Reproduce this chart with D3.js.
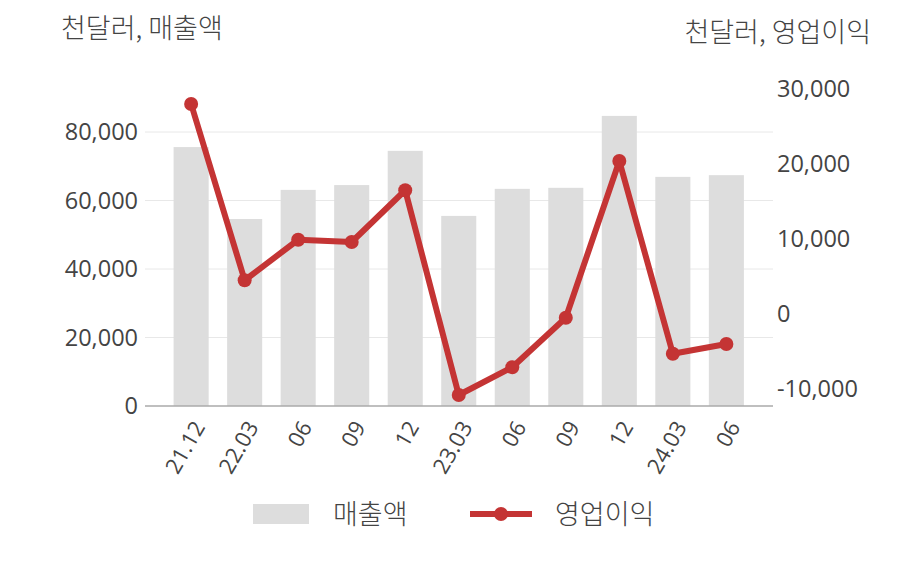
<!DOCTYPE html>
<html><head><meta charset="utf-8">
<script src="https://cdn.jsdelivr.net/npm/d3@7"></script>
<style>
body{margin:0;background:#fff;}
text{fill:#444;}
.kr{font-family:"Noto Sans CJK KR","Noto Sans",sans-serif;font-weight:300;}
</style></head>
<body><svg id="c" width="908" height="580"></svg>
<script>
const categories = ["21.12","22.03","06","09","12","23.03","06","09","12","24.03","06"];
const sales = [75600, 54600, 63100, 64500, 74500, 55500, 63400, 63700, 84700, 66900, 67400];
const opProfit = [28000, 4500, 9900, 9600, 16500, -10800, -7100, -500, 20400, -5300, -4000];
const leftTicks = [0, 20000, 40000, 60000, 80000];
const rightTicks = [-10000, 0, 10000, 20000, 30000];
const leftTitle = "천달러, 매출액";
const rightTitle = "천달러, 영업이익";
const legendNames = ["매출액", "영업이익"];

const svg = d3.select("#c");
const x0 = 145, x1 = 773;
const x = d3.scaleBand().domain(d3.range(categories.length)).range([164.5, 753]).paddingInner(0.345).paddingOuter(0.17);
const yL = d3.scaleLinear().domain([0, 80000]).range([406, 132]);
const yR = d3.scaleLinear().domain([-10000, 30000]).range([389, 89]);
const fmt = d => d3.format(",")(d).replace("\u2212", "-");
const red = "#c43434";
const numFont = "'Open Sans','Noto Sans',sans-serif";

// grid
svg.append("g").selectAll("line").data(leftTicks.slice(1)).join("line")
  .attr("x1", x0).attr("x2", x1).attr("y1", d => yL(d)).attr("y2", d => yL(d))
  .attr("stroke", "#e8e8e8").attr("stroke-width", 1);

// bars
svg.append("g").selectAll("rect").data(sales).join("rect")
  .attr("x", (d, i) => x(i)).attr("width", x.bandwidth())
  .attr("y", d => yL(d)).attr("height", d => yL(0) - yL(d))
  .attr("fill", "#dddddd");

// baseline axis
svg.append("line").attr("x1", x0).attr("x2", x1).attr("y1", yL(0)).attr("y2", yL(0))
  .attr("stroke", "#aaa").attr("stroke-width", 1.5);

// left axis labels
const axL = svg.append("g").attr("transform", `translate(${x0},0)`)
  .call(d3.axisLeft(yL).tickValues(leftTicks).tickFormat(fmt).tickSize(0).tickPadding(7));
axL.select(".domain").remove();
axL.selectAll("text").style("font-size", "23.5px").attr("fill", "#444");

// right axis labels
const axR = svg.append("g").attr("transform", `translate(${x1},0)`)
  .call(d3.axisRight(yR).tickValues(rightTicks).tickFormat(fmt).tickSize(0).tickPadding(4));
axR.select(".domain").remove();
axR.selectAll("text").style("font-size", "23.5px").attr("fill", "#444");

// x axis labels
const axX = svg.append("g").attr("transform", `translate(0,${yL(0)})`)
  .call(d3.axisBottom(x).tickFormat(i => categories[i]).tickSize(0).tickPadding(0));
axX.select(".domain").remove();
axX.selectAll("text").style("font-size", "22px").attr("fill", "#444")
  .attr("text-anchor", "end").attr("dy", "0.35em")
  .attr("transform", "translate(8,17) rotate(-60)");
svg.selectAll("g.tick text").style("font-family", numFont);

// line
const line = d3.line().x((d, i) => x(i) + x.bandwidth() / 2).y(d => yR(d));
svg.append("path").datum(opProfit).attr("d", line)
  .attr("fill", "none").attr("stroke", red).attr("stroke-width", 6).attr("stroke-linejoin", "round");
svg.append("g").selectAll("circle").data(opProfit).join("circle")
  .attr("cx", (d, i) => x(i) + x.bandwidth() / 2).attr("cy", d => yR(d)).attr("r", 7).attr("fill", red);

// titles
svg.append("text").attr("class", "kr").attr("x", 61).attr("y", 38).style("font-size", "27px").text(leftTitle);
svg.append("text").attr("class", "kr").attr("x", 871).attr("y", 42).attr("text-anchor", "end").style("font-size", "27px").text(rightTitle);

// legend
const lg = svg.append("g");
lg.append("rect").attr("x", 253).attr("y", 504).attr("width", 56).attr("height", 20).attr("fill", "#dddddd");
lg.append("text").attr("class", "kr").attr("x", 333).attr("y", 524).style("font-size", "27px").text(legendNames[0]);
lg.append("line").attr("x1", 470).attr("x2", 532).attr("y1", 514).attr("y2", 514).attr("stroke", red).attr("stroke-width", 6);
lg.append("circle").attr("cx", 501).attr("cy", 514).attr("r", 7).attr("fill", red);
lg.append("text").attr("class", "kr").attr("x", 555).attr("y", 524).style("font-size", "27px").text(legendNames[1]);
</script></body></html>
